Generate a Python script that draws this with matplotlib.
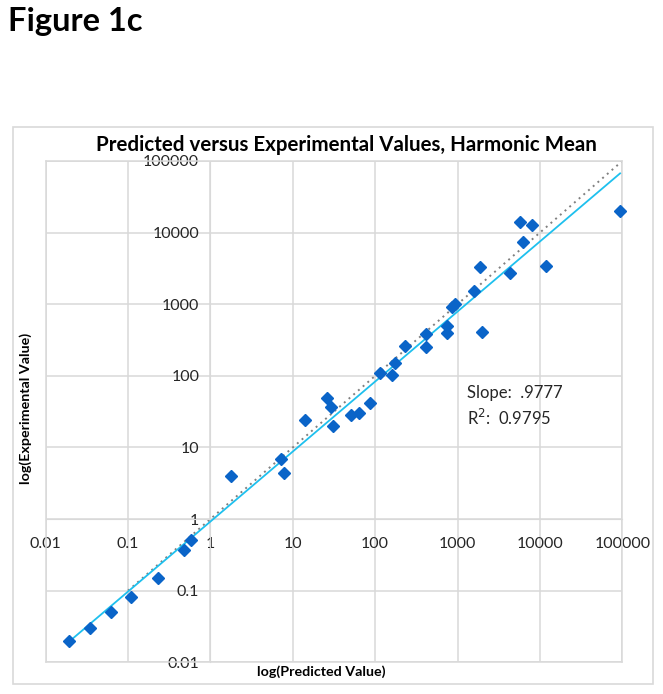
import numpy as np
import matplotlib
matplotlib.use("Agg")
import matplotlib.pyplot as plt
from matplotlib.patches import Rectangle

plt.rcParams['font.family'] = ['Lato', 'DejaVu Sans']

predicted = [0.019, 0.035, 0.063, 0.11, 0.23, 0.48, 0.58, 1.8,
             7.2, 7.9, 14, 26, 29, 31, 51, 63, 86, 114, 162, 174,
             232, 410, 420, 750, 740, 860, 940, 1970, 1600, 1900,
             4300, 5800, 6300, 8100, 12000, 94000]
experimental = [0.020, 0.030, 0.050, 0.081, 0.15, 0.37, 0.51, 4.0,
                6.8, 4.4, 24, 49, 37, 20, 28, 30, 42, 109, 104, 152,
                261, 250, 380, 490, 400, 920, 1000, 410, 1540, 3300,
                2700, 13900, 7500, 12800, 3450, 20000]
ticks = [0.01, 0.1, 1, 10, 100, 1000, 10000, 100000]
tick_labels = ["0.01", "0.1", "1", "10", "100", "1000", "10000", "100000"]
slope = 0.9777
intercept = -0.035
r2 = 0.9795

W, H = 663, 694
fig = plt.figure(figsize=(W/100, H/100), dpi=100)
ax = fig.add_axes([45.6/W, 1-662.3/H, (622.3-45.6)/W, (662.3-161)/H])

gray = '#D9D9D9'
txt = '#262626'
ax.set_xscale('log')
ax.set_yscale('log')
ax.set_xlim(ticks[0], ticks[-1])
ax.set_ylim(ticks[0], ticks[-1])
ax.set_xticks(ticks)
ax.set_yticks(ticks)
ax.set_xticklabels(tick_labels)
ax.set_yticklabels(tick_labels)
ax.minorticks_off()
ax.grid(True, color=gray, lw=1.1)
ax.set_axisbelow(True)
for s in ['top', 'right']:
    ax.spines[s].set_color(gray)
    ax.spines[s].set_linewidth(1.1)
ax.spines['left'].set_position(('data', 1))
ax.spines['bottom'].set_position(('data', 1))
ax.spines['left'].set_color(gray)
ax.spines['bottom'].set_color(gray)
ax.tick_params(axis='both', length=0, labelsize=11.5, labelcolor=txt)
ax.tick_params(axis='y', pad=8)
ax.tick_params(axis='x', pad=13)

# edge frame (left & bottom borders)
ax.plot([0, 0], [0, 1], transform=ax.transAxes, color=gray, lw=1.1, clip_on=False)
ax.plot([0, 1], [0, 0], transform=ax.transAxes, color=gray, lw=1.1, clip_on=False)

# identity line
ident = np.array([0.1, 100000])
ax.plot(ident, ident, color='#808080', ls=(0, (1, 2.2)), lw=1.4, zorder=2)

# trendline
lx = np.array([min(predicted), max(predicted)])
ax.plot(lx, 10**intercept * lx**slope, color='#1EC0EE', lw=1.3, zorder=3)

ax.plot(predicted, experimental, 'D', color='#0A64C8', ms=6.5, mec='#0A64C8', zorder=4, clip_on=False)

ax.text(0.731, 0.537, "Slope:  .9777", transform=ax.transAxes, fontsize=12, color=txt, va='center')
ax.text(0.731, 0.487, "R$^2$:  %.4f" % r2, transform=ax.transAxes, fontsize=12, color=txt, va='center')

ax.set_title("Predicted versus Experimental Values, Harmonic Mean", fontsize=14.8,
             fontweight='bold', pad=7, x=0.521)
fig.text(321/W, 1-672/H, "log(Predicted Value)", ha='center', va='center', fontsize=10.3, fontweight='bold')
fig.text(26/W, 1-408/H, "log(Experimental Value)", ha='center', va='center', rotation=90,
         fontsize=10.3, fontweight='bold')
fig.text(8/W, 1-7/H, "Figure 1c", ha='left', va='top', fontsize=23.5, fontweight='bold')

fig.patches.append(Rectangle((12.5/W, 1-684/H), (653-12.5)/W, (684-126.5)/H,
                             transform=fig.transFigure, fill=False, ec=gray, lw=1.2))

fig.savefig("out.png", dpi=100)
